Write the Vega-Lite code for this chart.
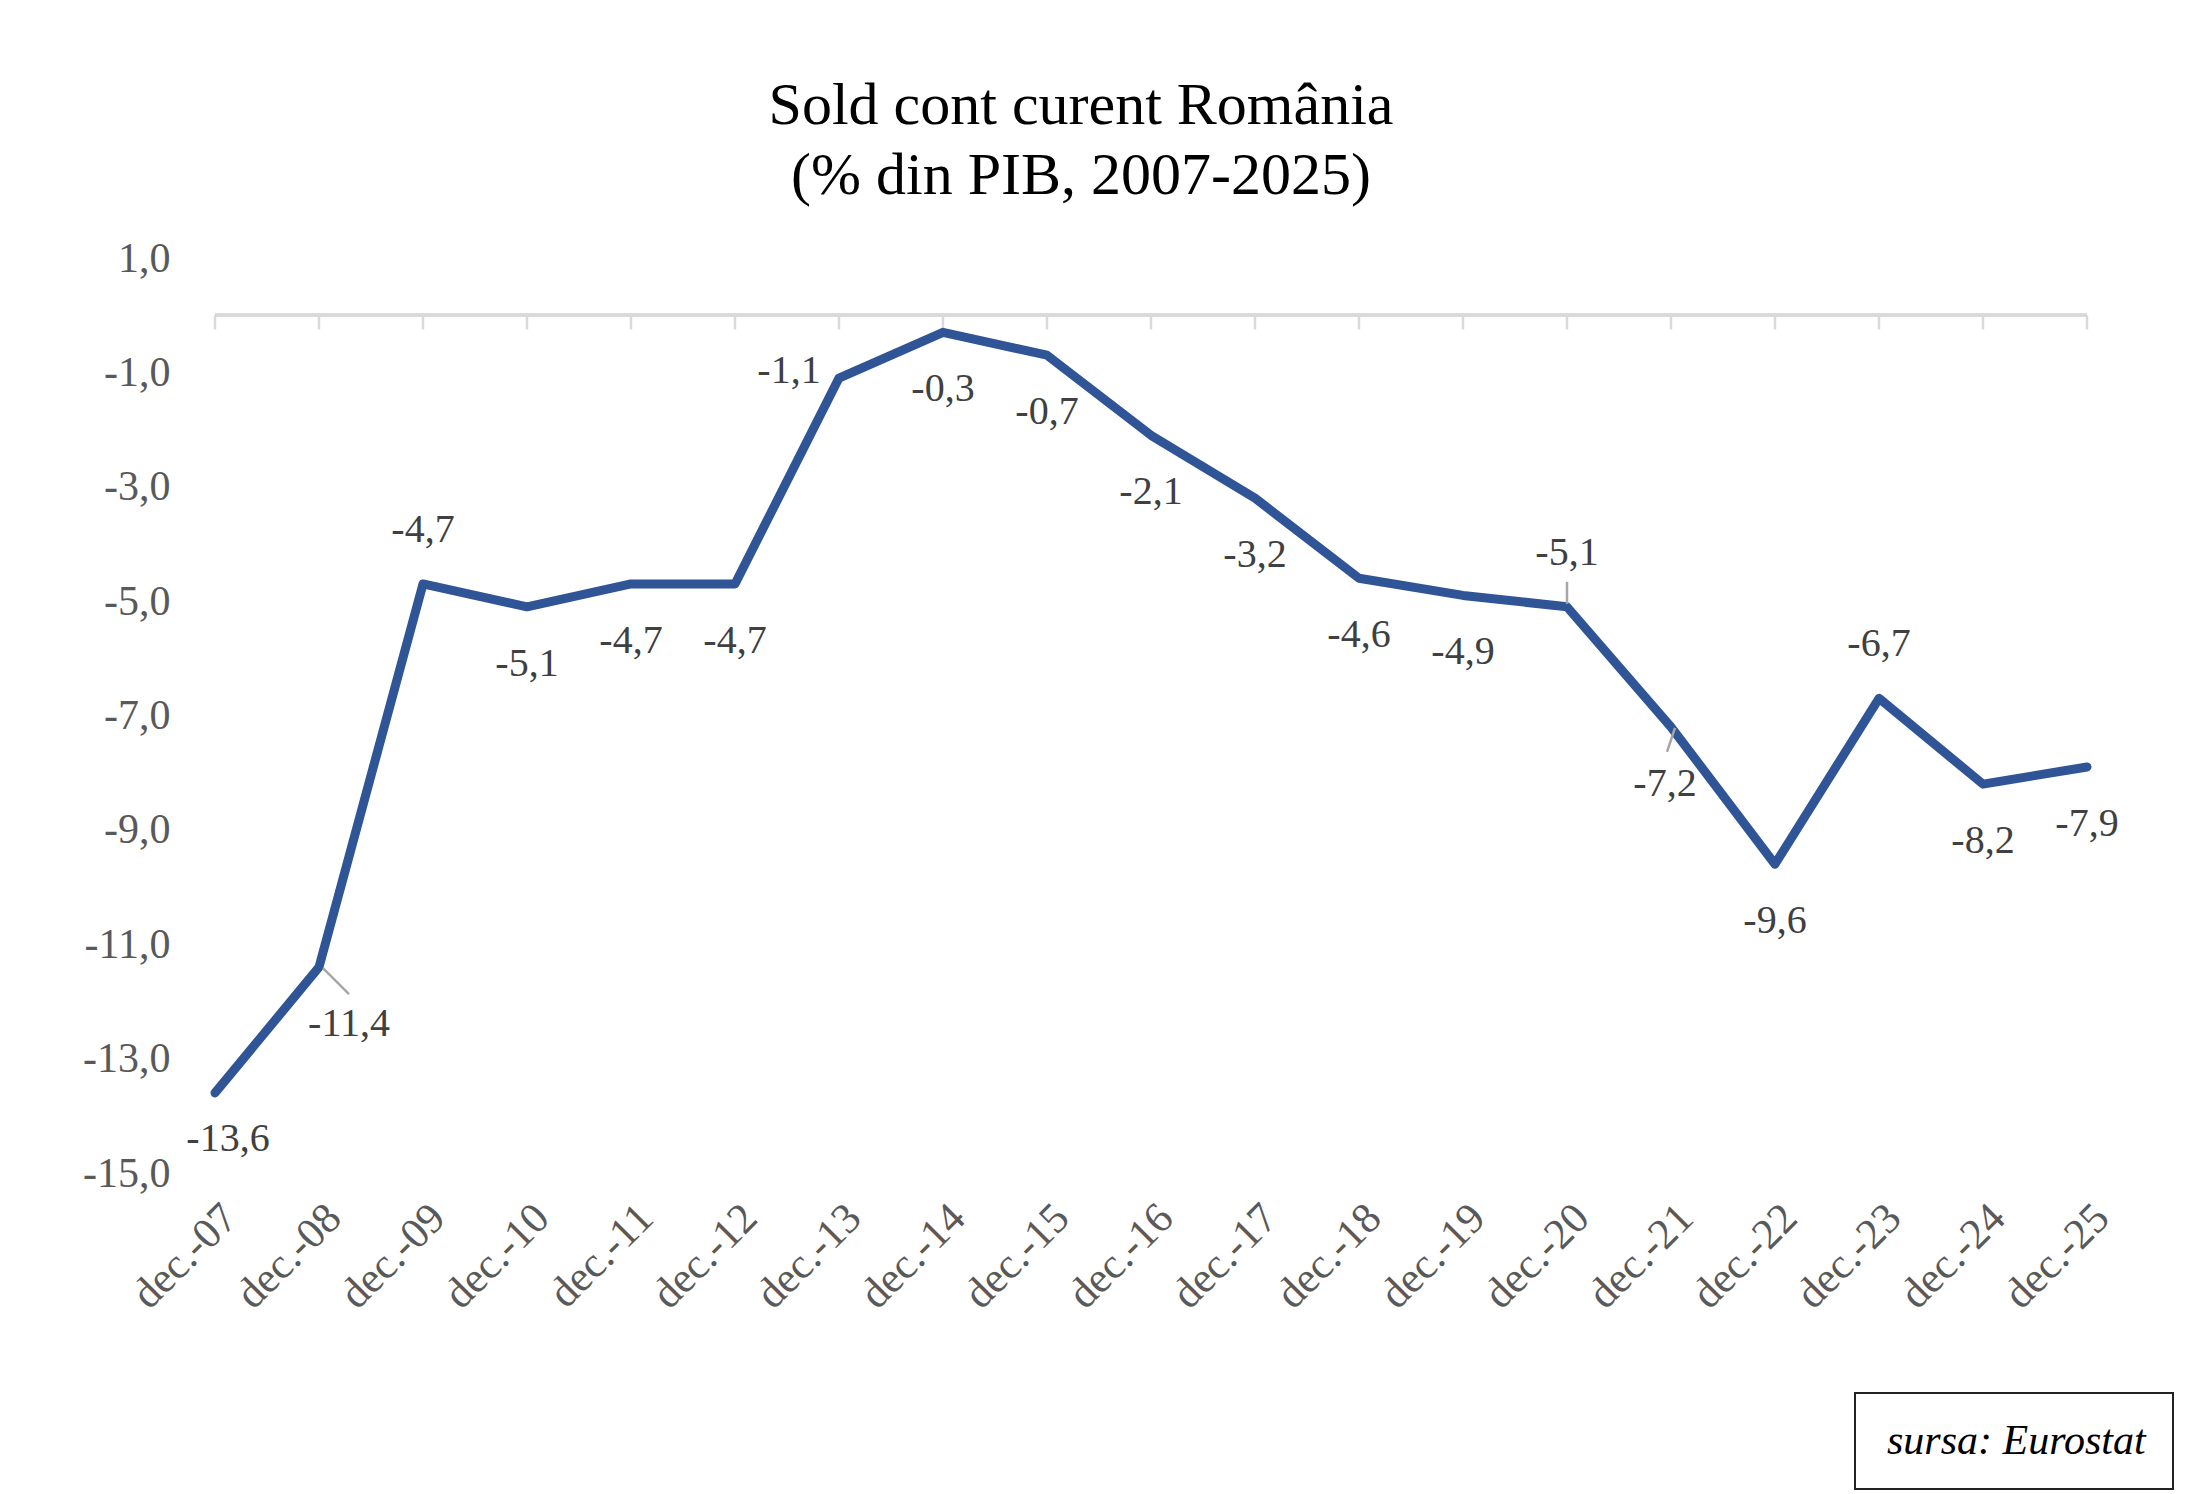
{
  "$schema": "https://vega.github.io/schema/vega-lite/v6.json",
  "width": 1872,
  "height": 915,
  "autosize": "none",
  "padding": {"left": 215, "top": 258, "right": 113, "bottom": 321},
  "background": "white",
  "config": {
    "view": {"stroke": null},
    "font": "Liberation Serif",
    "locale": {
      "number": {"decimal": ",", "thousands": ".", "grouping": [3], "currency": ["", ""], "minus": "-"}
    }
  },
  "title": {
    "text": ["Sold cont curent România", "(% din PIB, 2007-2025)"],
    "font": "Liberation Serif",
    "fontSize": 60,
    "fontWeight": "normal",
    "color": "black",
    "lineHeight": 70,
    "anchor": "middle",
    "frame": "group",
    "offset": 30,
    "dx": -70
  },
  "data": {
    "values": [
      {"Luna": "dec.-07", "Sold": -13.6},
      {"Luna": "dec.-08", "Sold": -11.4},
      {"Luna": "dec.-09", "Sold": -4.7},
      {"Luna": "dec.-10", "Sold": -5.1},
      {"Luna": "dec.-11", "Sold": -4.7},
      {"Luna": "dec.-12", "Sold": -4.7},
      {"Luna": "dec.-13", "Sold": -1.1},
      {"Luna": "dec.-14", "Sold": -0.3},
      {"Luna": "dec.-15", "Sold": -0.7},
      {"Luna": "dec.-16", "Sold": -2.1},
      {"Luna": "dec.-17", "Sold": -3.2},
      {"Luna": "dec.-18", "Sold": -4.6},
      {"Luna": "dec.-19", "Sold": -4.9},
      {"Luna": "dec.-20", "Sold": -5.1},
      {"Luna": "dec.-21", "Sold": -7.2},
      {"Luna": "dec.-22", "Sold": -9.6},
      {"Luna": "dec.-23", "Sold": -6.7},
      {"Luna": "dec.-24", "Sold": -8.2},
      {"Luna": "dec.-25", "Sold": -7.9}
    ]
  },
  "encoding": {
    "x": {
      "field": "Luna",
      "type": "ordinal",
      "sort": null,
      "scale": {"type": "point", "padding": 0},
      "axis": {
        "title": null,
        "domain": false,
        "ticks": false,
        "labelAngle": -45,
        "labelFont": "Liberation Serif",
        "labelFontSize": 43,
        "labelColor": "#595959",
        "labelPadding": 23
      }
    },
    "y": {
      "field": "Sold",
      "type": "quantitative",
      "scale": {"domain": [-15, 1], "nice": false, "zero": false},
      "axis": {
        "title": null,
        "domain": false,
        "ticks": false,
        "grid": false,
        "values": [1, -1, -3, -5, -7, -9, -11, -13, -15],
        "format": ".1f",
        "labelFont": "Liberation Serif",
        "labelFontSize": 42,
        "labelColor": "#595959",
        "labelPadding": 45
      }
    }
  },
  "layer": [
    {
      "mark": {"type": "rule", "color": "#d9d9d9", "strokeWidth": 3},
      "encoding": {"x": null, "y": {"datum": 0}}
    },
    {
      "mark": {"type": "rule", "color": "#d9d9d9", "strokeWidth": 2.5},
      "encoding": {"y": {"datum": 0}, "y2": {"datum": -0.25}}
    },
    {
      "mark": {
        "type": "line",
        "strokeWidth": 9,
        "strokeCap": "round",
        "strokeJoin": "round"
      },
      "encoding": {
        "color": {
          "datum": "sursa: Eurostat",
          "scale": {"range": ["#2f5597"]},
          "legend": {
            "title": null,
            "orient": "none",
            "legendX": 1640,
            "legendY": 1135,
            "padding": 27,
            "strokeColor": "#222222",
            "fillColor": "white",
            "symbolType": "circle",
            "symbolSize": 1,
            "symbolStrokeWidth": 0,
            "symbolOpacity": 0,
            "labelOffset": -37,
            "labelFont": "Liberation Serif",
            "labelFontStyle": "italic",
            "labelFontSize": 42,
            "labelColor": "black",
            "labelLimit": 500,
            "encode": {"legend": {"update": {"strokeWidth": {"value": 2}}}}
          }
        }
      }
    },
    {
      "transform": [{"filter": "indexof(['dec.-08', 'dec.-20', 'dec.-21'], datum.Luna) >= 0"}],
      "mark": {
        "type": "rule",
        "color": "#a6a6a6",
        "strokeWidth": 2.5,
        "xOffset": {"expr": "datum.Luna == 'dec.-20' ? 0 : 4"},
        "yOffset": {"expr": "datum.Luna == 'dec.-20' ? -3 : 1"},
        "x2Offset": {"expr": "datum.Luna == 'dec.-08' ? 30 : datum.Luna == 'dec.-21' ? -4 : 0"},
        "y2Offset": {"expr": "datum.Luna == 'dec.-20' ? -25 : datum.Luna == 'dec.-08' ? 27 : 25"}
      },
      "encoding": {
        "x2": {"field": "Luna"},
        "y2": {"field": "Sold"}
      }
    },
    {
      "mark": {
        "type": "text",
        "font": "Liberation Serif",
        "fontSize": 40,
        "color": "#404040",
        "baseline": "middle",
        "align": "center",
        "dx": {"expr": "datum.Luna == 'dec.-13' ? -50 : datum.Luna == 'dec.-08' ? 30 : datum.Luna == 'dec.-07' ? 13 : datum.Luna == 'dec.-21' ? -6 : 0"},
        "dy": {"expr": "indexof(['dec.-09', 'dec.-20', 'dec.-23'], datum.Luna) >= 0 ? -54 : datum.Luna == 'dec.-13' ? -7 : datum.Luna == 'dec.-07' ? 46 : 57"}
      },
      "encoding": {
        "text": {"field": "Sold", "type": "quantitative", "format": ".1f"}
      }
    }
  ]
}
